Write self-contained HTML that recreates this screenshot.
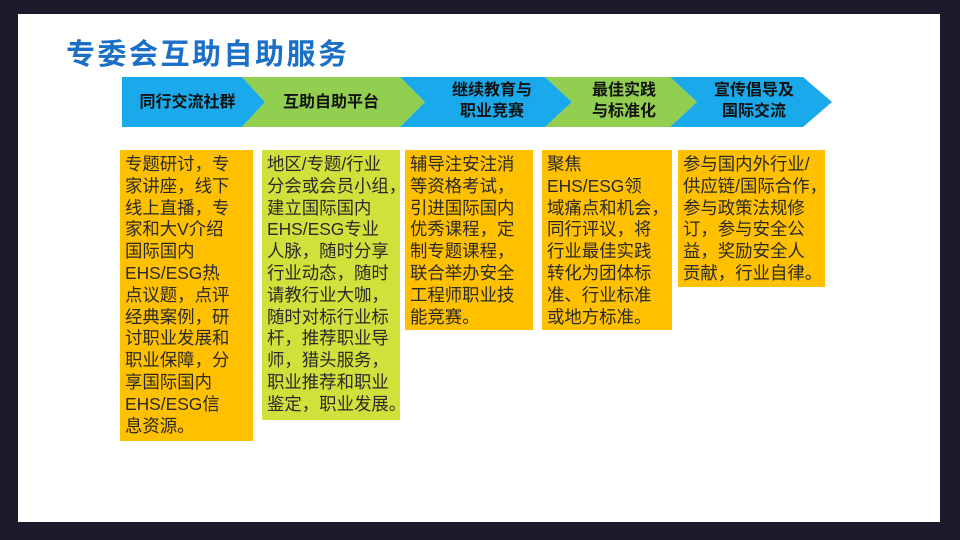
<!DOCTYPE html>
<html><head><meta charset="utf-8"><style>
body{margin:0;width:960px;height:540px;background:#1b1b2b;position:relative;overflow:hidden;font-family:"Liberation Sans","Noto Sans CJK SC",sans-serif}
.slide{position:absolute;left:18px;top:14px;width:922px;height:508px;background:#fff}
.t{position:absolute;left:66px;top:31px;font-size:29px;font-weight:bold;color:#1a6fc6;letter-spacing:2.5px}
.lab{position:absolute;font-size:16px;font-weight:bold;color:#111;text-align:center;line-height:21px}
.b{position:absolute;top:150px;font-size:17.4px;line-height:21.8px;color:#2a2a2a;padding:4px 0 0 5px;box-sizing:border-box;white-space:nowrap}
.o{background:#ffc000}.g{background:#d2e03b}
</style></head><body>
<div class="slide"></div>
<div class="t">专委会互助自助服务</div>
<svg style="position:absolute;left:0;top:0" width="960" height="540">
<polygon points="122,77 242,77 265,102 242,127 122,127" fill="#1aa9ea"/>
<polygon points="242,77 400,77 425,102 400,127 242,127 265,102" fill="#92cf50"/>
<polygon points="400,77 545,77 572,102 545,127 400,127 425,102" fill="#1aa9ea"/>
<polygon points="545,77 670,77 697,102 670,127 545,127 572,102" fill="#92cf50"/>
<polygon points="670,77 803,77 832,102 803,127 670,127 697,102" fill="#1aa9ea"/>
</svg>
<div class="lab" style="left:120px;width:135px;top:92px">同行交流社群</div>
<div class="lab" style="left:256px;width:150px;top:92px">互助自助平台</div>
<div class="lab" style="left:422px;width:140px;top:80px">继续教育与<br>职业竞赛</div>
<div class="lab" style="left:568px;width:112px;top:80px">最佳实践<br>与标准化</div>
<div class="lab" style="left:692px;width:124px;top:80px">宣传倡导及<br>国际交流</div>
<div class="b o" style="left:120px;width:133px;height:291px">专题研讨，专<br>家讲座，线下<br>线上直播，专<br>家和大V介绍<br>国际国内<br>EHS/ESG热<br>点议题，点评<br>经典案例，研<br>讨职业发展和<br>职业保障，分<br>享国际国内<br>EHS/ESG信<br>息资源。</div>
<div class="b g" style="left:262px;width:138px;height:270px">地区/专题/行业<br>分会或会员小组，<br>建立国际国内<br>EHS/ESG专业<br>人脉，随时分享<br>行业动态，随时<br>请教行业大咖，<br>随时对标行业标<br>杆，推荐职业导<br>师，猎头服务，<br>职业推荐和职业<br>鉴定，职业发展。</div>
<div class="b o" style="left:405px;width:128px;height:180px">辅导注安注消<br>等资格考试，<br>引进国际国内<br>优秀课程，定<br>制专题课程，<br>联合举办安全<br>工程师职业技<br>能竞赛。</div>
<div class="b o" style="left:542px;width:130px;height:180px">聚焦<br>EHS/ESG领<br>域痛点和机会，<br>同行评议，将<br>行业最佳实践<br>转化为团体标<br>准、行业标准<br>或地方标准。</div>
<div class="b o" style="left:678px;width:147px;height:137px">参与国内外行业/<br>供应链/国际合作，<br>参与政策法规修<br>订，参与安全公<br>益，奖励安全人<br>贡献，行业自律。</div>
</body></html>
